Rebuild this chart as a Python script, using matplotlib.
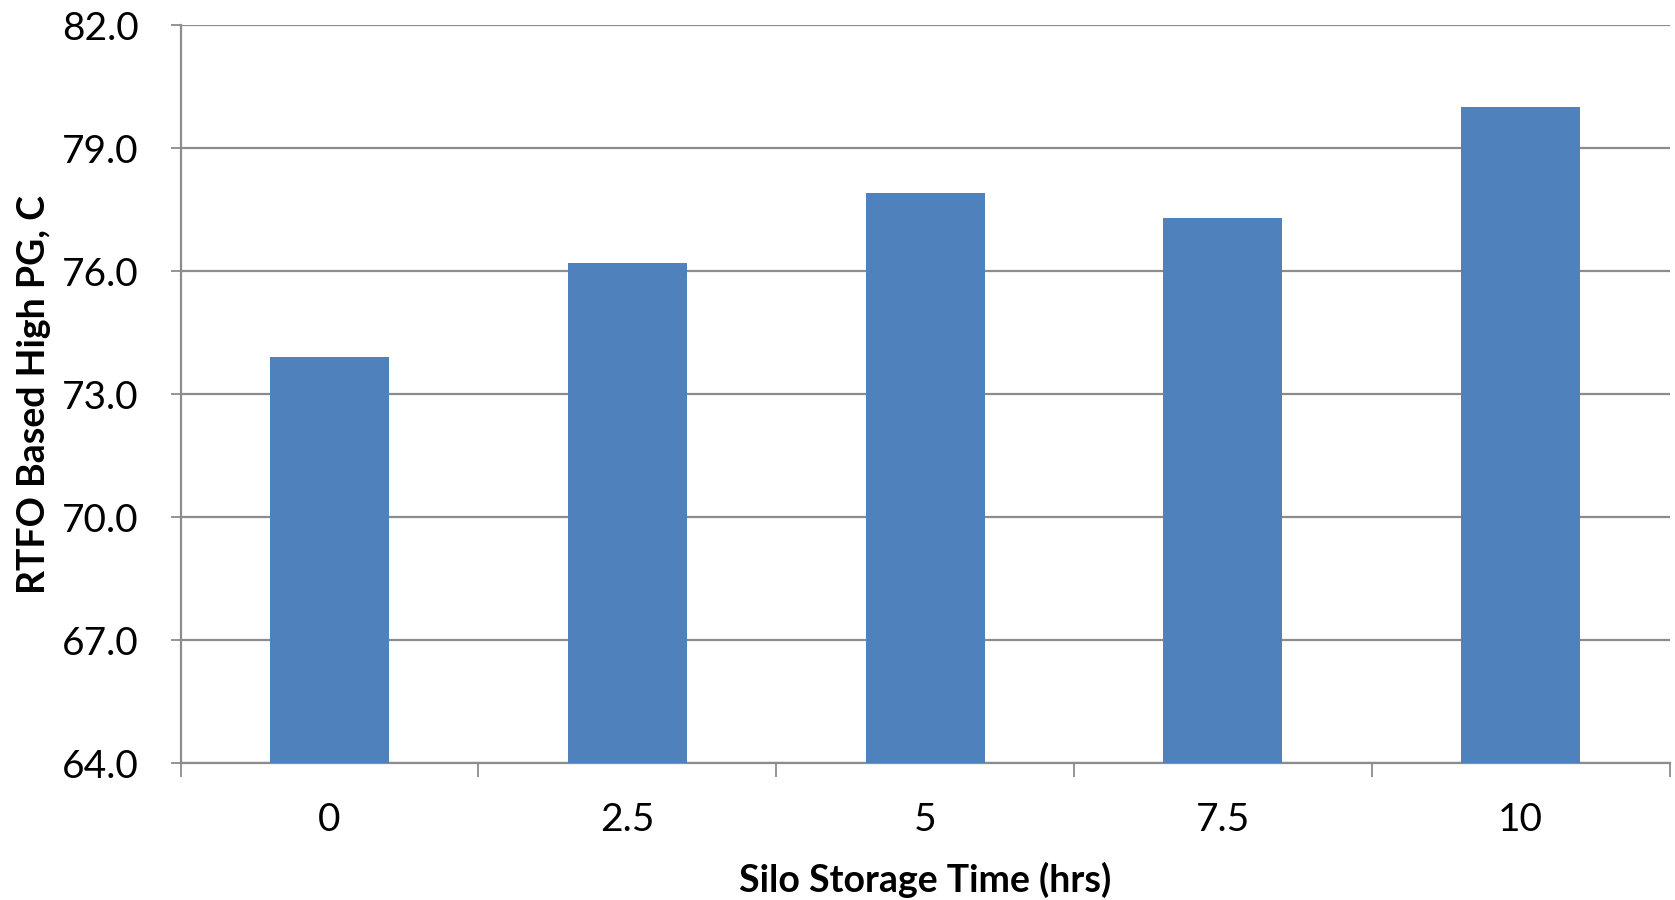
import matplotlib
matplotlib.use('Agg')
import matplotlib.pyplot as plt
import numpy as np

# silo storage data
hours = ['0', '2.5', '5', '7.5', '10']
high_pg = [73.9, 76.2, 77.9, 77.3, 80.0]
y_ticks = [64.0, 67.0, 70.0, 73.0, 76.0, 79.0, 82.0]

plt.rcParams['font.family'] = ['Lato', 'DejaVu Sans']

fig = plt.figure(figsize=(16.75, 9), dpi=100)
ax = fig.add_axes([0.1078, 0.1517, 0.889, 0.8205])

x = np.arange(len(hours))
ax.bar(x, high_pg, width=0.4, color='#4F81BD', zorder=3)

ax.set_xlim(-0.5, len(hours) - 0.5)
ax.set_ylim(64, 82)
ax.set_yticks(y_ticks)
ax.set_yticklabels(['%.1f' % v for v in y_ticks])
ax.yaxis.grid(True, color='#8C8C8C', linewidth=1.6, zorder=0)

ax.set_xticks(x)
ax.set_xticklabels(hours)
ax.set_xticks(np.arange(len(hours) + 1) - 0.5, minor=True)
ax.tick_params(axis='x', which='major', length=0, pad=28, labelsize=28)
ax.tick_params(axis='x', which='minor', length=10, width=1.3, color='#8C8C8C', direction='out')
ax.tick_params(axis='y', length=7, width=1.3, color='#8C8C8C', pad=23, labelsize=28)

for s in ['top', 'right']:
    ax.spines[s].set_visible(False)
for s in ['left', 'bottom']:
    ax.spines[s].set_color('#8C8C8C')
    ax.spines[s].set_linewidth(1.6)

ax.set_xlabel('Silo Storage Time (hrs)', fontsize=27, fontweight='bold', labelpad=17)
ax.set_ylabel('RTFO Based High PG, C', fontsize=27, fontweight='bold', labelpad=8)

fig.savefig('out.png', dpi=100)
